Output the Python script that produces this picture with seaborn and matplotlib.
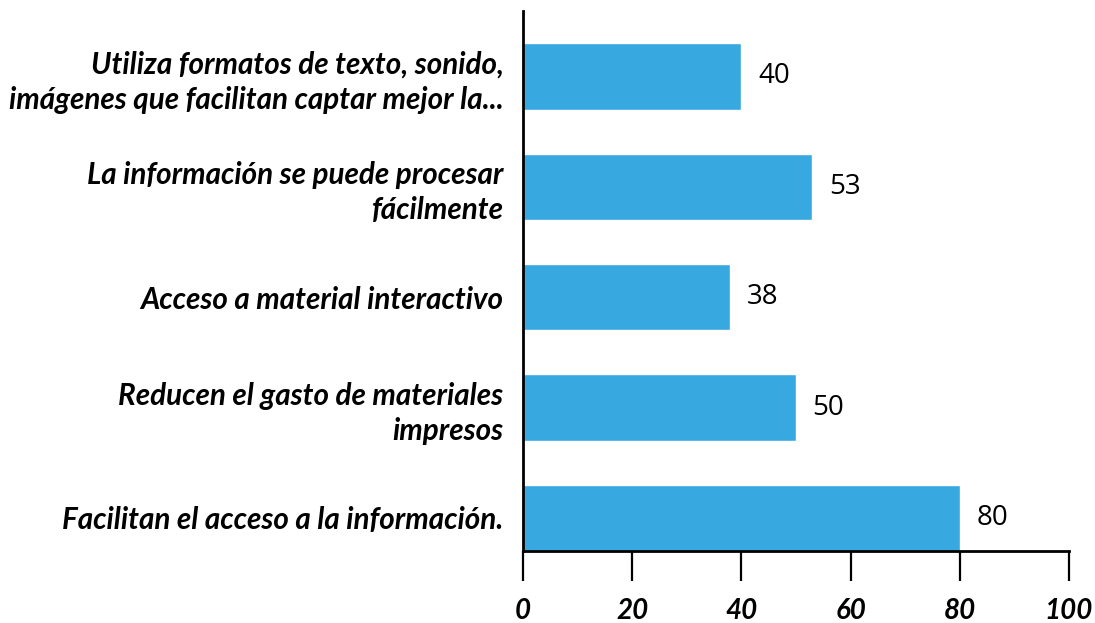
import pandas as pd
import matplotlib.pyplot as plt
import seaborn as sns

categories = ["Utiliza formatos de texto, sonido,\nimágenes que facilitan captar mejor la...",
              "La información se puede procesar\nfácilmente",
              "Acceso a material interactivo",
              "Reducen el gasto de materiales\nimpresos",
              "Facilitan el acceso a la información."]
values = [40, 53, 38, 50, 80]
x_ticks = [0, 20, 40, 60, 80, 100]

bar_color = "#37A8E0"

df = pd.DataFrame({"categoria": categories, "valor": values})

sns.set_style("white")
plt.rcParams["font.family"] = ["Lato", "DejaVu Sans"]

fig = plt.figure(figsize=(10.95, 6.23), dpi=100)
ax = fig.add_axes([523 / 1095, 1 - 551 / 623, (1069 - 523) / 1095, (551 - 11) / 623])

sns.barplot(df, x="valor", y="categoria", orient="h", color=bar_color,
            width=0.6, saturation=1, ax=ax)

ax.set_xlim(0, 100)
ax.set_ylim(4.3, -0.593)
ax.set_xticks(x_ticks)
ax.set_xlabel("")
ax.set_ylabel("")

for side in ["top", "right"]:
    ax.spines[side].set_visible(False)
for side in ["left", "bottom"]:
    ax.spines[side].set_color("black")
    ax.spines[side].set_linewidth(2)

ax.tick_params(axis="x", direction="out", length=21.5, width=1.6, color="black",
               bottom=True, pad=12)
ax.tick_params(axis="y", length=0, pad=14)

for lbl in ax.get_xticklabels():
    lbl.set_fontsize(20)
    lbl.set_fontweight("bold")
    lbl.set_fontstyle("italic")
    lbl.set_color("black")
for lbl in ax.get_yticklabels():
    lbl.set_fontsize(21.3)
    lbl.set_fontweight("bold")
    lbl.set_fontstyle("italic")
    lbl.set_color("black")
    lbl.set_linespacing(1.3)

for cont in ax.containers:
    ax.bar_label(cont, labels=[str(v) for v in values], padding=12,
                 fontsize=20, family=["Open Sans", "DejaVu Sans"], color="black")

fig.savefig("out.png", dpi=100)
